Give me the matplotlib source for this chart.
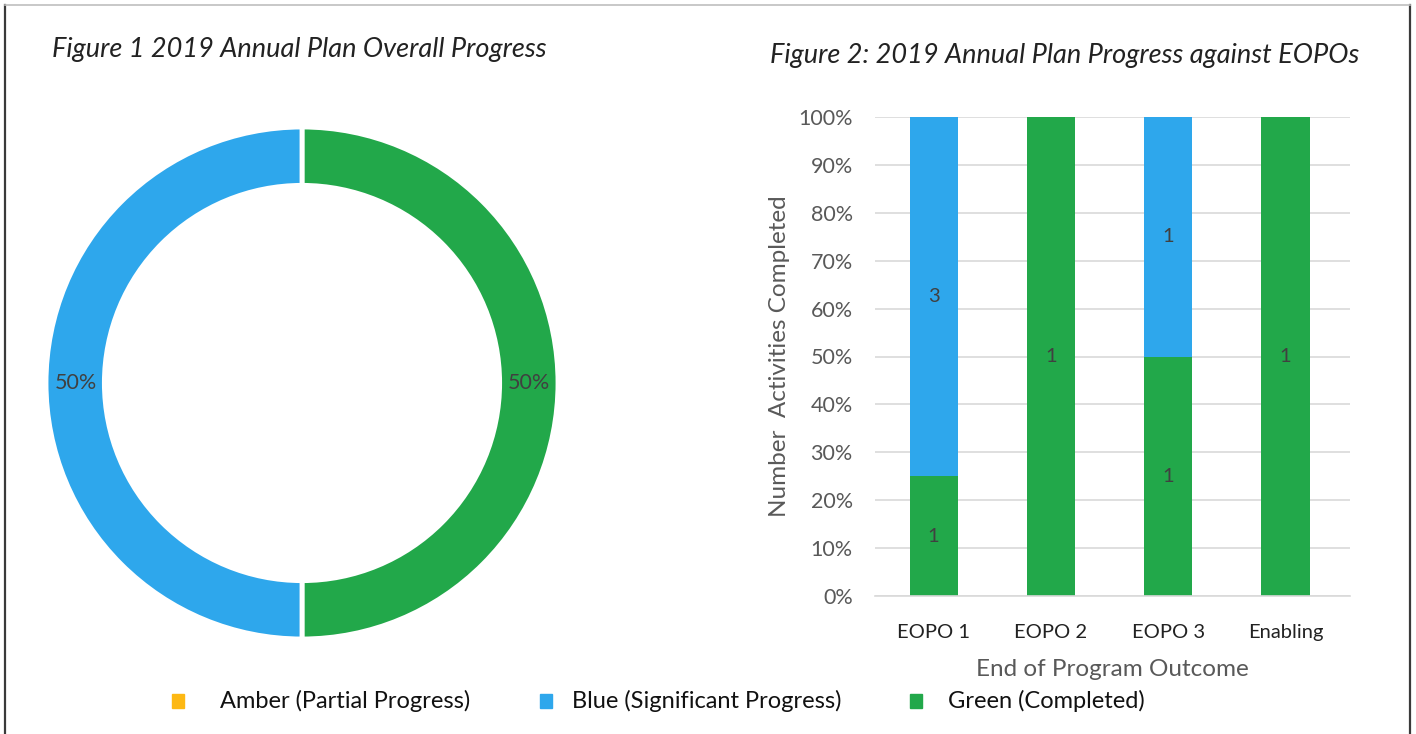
import matplotlib
matplotlib.use("Agg")
import matplotlib.pyplot as plt
from matplotlib.lines import Line2D
from matplotlib.patches import Rectangle
import numpy as np

plt.rcParams['font.family'] = ['Lato', 'DejaVu Sans']

# activity counts per end-of-program outcome
outcomes = ["EOPO 1", "EOPO 2", "EOPO 3", "Enabling"]
amber = [0, 0, 0, 0]
blue = [3, 0, 1, 0]
green = [1, 1, 1, 1]

status_names = ["Amber (Partial Progress)", "Blue (Significant Progress)", "Green (Completed)"]
status_colors = ["#FDB813", "#2EA7EC", "#22A84A"]

W, H = 1416, 734
fig = plt.figure(figsize=(W / 100, H / 100), dpi=100)


def px_axes(x0, y0, x1, y1):
    # pixel box (top-left origin) -> figure axes
    return fig.add_axes([x0 / W, 1 - y1 / H, (x1 - x0) / W, (y1 - y0) / H])


# outer frame
fig.add_artist(Line2D([5 / W, 5 / W], [0, 1 - 5 / H], color="#3a3a3a", lw=1.6))
fig.add_artist(Line2D([1410 / W, 1410 / W], [0, 1 - 5 / H], color="#3a3a3a", lw=1.6))
fig.add_artist(Line2D([5 / W, 1410 / W], [1 - 5 / H, 1 - 5 / H], color="#bfbfbf", lw=1.2))

# ---- Figure 1: donut of overall progress
totals = [sum(amber), sum(blue), sum(green)]
cx, cy, r = 302, 383, 256
ax1 = px_axes(cx - r, cy - r, cx + r, cy + r)
vals = [totals[2], totals[1]]
cols = [status_colors[2], status_colors[1]]
wedges, _, autotexts = ax1.pie(vals, colors=cols, startangle=90, counterclock=False,
                               radius=1, autopct="%1.0f%%", pctdistance=0.885,
                               wedgeprops=dict(width=0.228, edgecolor="white", linewidth=3.5),
                               textprops=dict(fontsize=15.5, color="#404040"))
ax1.set_xlim(-1, 1)
ax1.set_ylim(-1, 1)
ax1.set_aspect("equal")
ax1.axis("off")

fig.text(52 / W, 1 - 50 / H, "Figure 1 2019 Annual Plan Overall Progress",
         fontsize=19.5, style="italic", color="#222222", va="center")

# ---- Figure 2: stacked percentage bars
ax2 = px_axes(875, 117, 1350, 596)
x = np.arange(len(outcomes))
tot = np.array(amber) + np.array(blue) + np.array(green)
g_pct = np.array(green) / tot * 100
b_pct = np.array(blue) / tot * 100
a_pct = np.array(amber) / tot * 100
bw = 0.41
ax2.bar(x, g_pct, bw, color=status_colors[2], zorder=2)
ax2.bar(x, b_pct, bw, bottom=g_pct, color=status_colors[1], zorder=2)
ax2.bar(x, a_pct, bw, bottom=g_pct + b_pct, color=status_colors[0], zorder=2)

for i in range(len(outcomes)):
    if green[i]:
        ax2.text(x[i], g_pct[i] / 2, str(green[i]), ha="center", va="center",
                 fontsize=14.5, color="#404040", zorder=3)
    if blue[i]:
        ax2.text(x[i], g_pct[i] + b_pct[i] / 2, str(blue[i]), ha="center", va="center",
                 fontsize=14.5, color="#404040", zorder=3)

ax2.set_xlim(-0.5, 3.55)
ax2.set_ylim(0, 100)
ax2.set_yticks(np.arange(0, 101, 10))
ax2.set_yticklabels(["{}%".format(v) for v in range(0, 101, 10)])
ax2.set_xticks(x)
ax2.set_xticklabels(outcomes)
ax2.grid(axis="y", color="#d9d9d9", lw=1.2, zorder=0)
for s in ["top", "right", "left"]:
    ax2.spines[s].set_visible(False)
ax2.spines["bottom"].set_color("#d9d9d9")
ax2.spines["bottom"].set_linewidth(1.2)
ax2.tick_params(axis="y", length=0, labelsize=15.5, colors="#595959", pad=16)
ax2.tick_params(axis="x", length=0, labelsize=14.5, labelcolor="#222222", pad=20)
ax2.set_ylabel("Number  Activities Completed", fontsize=17.5, color="#595959", labelpad=6)
ax2.set_xlabel("End of Program Outcome", fontsize=17.5, color="#595959", labelpad=13)

fig.text(770 / W, 1 - 55 / H, "Figure 2: 2019 Annual Plan Progress against EOPOs",
         fontsize=19.5, style="italic", color="#222222", va="center")

# ---- shared legend
leg_sq = [172, 540, 910]
leg_tx = [220, 572, 948]
for i in range(3):
    fig.add_artist(Rectangle((leg_sq[i] / W, 1 - 708 / H), 12 / W, 14 / H,
                             color=status_colors[i], transform=fig.transFigure))
    fig.text(leg_tx[i] / W, 1 - 701 / H, status_names[i],
             fontsize=17, color="#111111", va="center")

fig.savefig("out.png", dpi=100)
